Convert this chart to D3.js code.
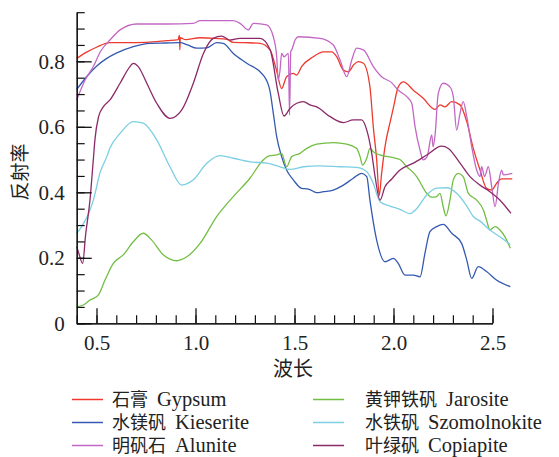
<!DOCTYPE html>
<html><head><meta charset="utf-8">
<script src="https://cdn.jsdelivr.net/npm/d3@7"></script>
<style>body{margin:0;background:#fff}</style>
</head><body><svg id="c" width="559" height="457"></svg>
<script>
const seriesCN = ["石膏", "水镁矾", "明矾石", "黄钾铁矾", "水铁矾", "叶绿矾"];
const seriesEN = ["Gypsum", "Kieserite", "Alunite", "Jarosite", "Szomolnokite", "Copiapite"];
const colors = ["#ee3a2e", "#3459b1", "#c268c4", "#72be43", "#7ccfe2", "#8b2a68"];
const xTicks = [0.5, 1.0, 1.5, 2.0, 2.5];
const yTicks = [0, 0.2, 0.4, 0.6, 0.8];

const gypsum = [[0.4,0.809],[0.45,0.828],[0.5,0.843],[0.568,0.857],[0.65,0.857],[0.75,0.858],[0.856,0.863],[0.912,0.866],[0.919,0.88],[0.921,0.835],[0.923,0.872],[0.95,0.866],[1.023,0.872],[1.1,0.87],[1.159,0.867],[1.19,0.858],[1.25,0.857],[1.326,0.855],[1.377,0.834],[1.41,0.77],[1.435,0.717],[1.46,0.753],[1.494,0.763],[1.511,0.758],[1.536,0.784],[1.595,0.814],[1.645,0.829],[1.688,0.829],[1.713,0.814],[1.747,0.773],[1.772,0.768],[1.8,0.79],[1.822,0.799],[1.848,0.794],[1.881,0.722],[1.898,0.6],[1.915,0.499],[1.928,0.39],[1.94,0.458],[1.957,0.539],[1.985,0.62],[2.0,0.66],[2.024,0.722],[2.05,0.737],[2.1,0.712],[2.15,0.687],[2.21,0.653],[2.235,0.667],[2.26,0.661],[2.294,0.677],[2.336,0.667],[2.37,0.616],[2.403,0.534],[2.437,0.468],[2.47,0.412],[2.496,0.407],[2.52,0.427],[2.546,0.441],[2.6,0.441]];
const kieserite = [[0.4,0.714],[0.45,0.753],[0.5,0.785],[0.552,0.809],[0.6,0.825],[0.686,0.845],[0.77,0.855],[0.85,0.856],[0.922,0.857],[0.96,0.85],[1.006,0.84],[1.057,0.841],[1.107,0.857],[1.14,0.855],[1.191,0.824],[1.259,0.794],[1.342,0.758],[1.376,0.71],[1.393,0.641],[1.41,0.57],[1.435,0.509],[1.46,0.468],[1.494,0.438],[1.536,0.412],[1.57,0.41],[1.612,0.399],[1.646,0.402],[1.696,0.407],[1.747,0.422],[1.797,0.443],[1.839,0.458],[1.865,0.448],[1.881,0.376],[1.915,0.254],[1.957,0.188],[1.999,0.198],[2.024,0.183],[2.058,0.147],[2.1,0.147],[2.134,0.142],[2.159,0.214],[2.184,0.28],[2.218,0.295],[2.251,0.302],[2.294,0.275],[2.344,0.244],[2.37,0.193],[2.395,0.137],[2.428,0.173],[2.47,0.158],[2.52,0.132],[2.59,0.112]];
const alunite = [[0.4,0.682],[0.44,0.74],[0.484,0.784],[0.52,0.83],[0.568,0.865],[0.619,0.896],[0.703,0.914],[0.855,0.914],[0.989,0.916],[1.023,0.924],[1.191,0.924],[1.225,0.916],[1.267,0.896],[1.292,0.916],[1.36,0.911],[1.377,0.901],[1.393,0.875],[1.41,0.814],[1.418,0.743],[1.427,0.773],[1.435,0.824],[1.447,0.814],[1.469,0.824],[1.475,0.636],[1.481,0.83],[1.486,0.835],[1.503,0.865],[1.519,0.875],[1.629,0.87],[1.696,0.85],[1.73,0.804],[1.764,0.753],[1.789,0.804],[1.814,0.84],[1.848,0.835],[1.898,0.784],[1.94,0.753],[1.99,0.735],[2.024,0.712],[2.067,0.692],[2.092,0.672],[2.109,0.6],[2.134,0.529],[2.15,0.499],[2.17,0.509],[2.193,0.575],[2.2,0.539],[2.21,0.575],[2.226,0.702],[2.251,0.733],[2.285,0.722],[2.302,0.692],[2.319,0.59],[2.336,0.641],[2.352,0.677],[2.37,0.631],[2.395,0.539],[2.42,0.468],[2.437,0.448],[2.445,0.478],[2.46,0.448],[2.479,0.478],[2.496,0.417],[2.513,0.356],[2.53,0.427],[2.546,0.468],[2.555,0.453],[2.6,0.458]];
const jarosite = [[0.4,0.051],[0.434,0.056],[0.467,0.071],[0.509,0.086],[0.543,0.132],[0.585,0.183],[0.635,0.209],[0.686,0.249],[0.736,0.275],[0.779,0.254],[0.837,0.209],[0.905,0.191],[0.956,0.203],[1.023,0.244],[1.107,0.326],[1.191,0.387],[1.275,0.443],[1.342,0.499],[1.376,0.512],[1.41,0.514],[1.435,0.519],[1.46,0.478],[1.486,0.509],[1.528,0.519],[1.562,0.534],[1.612,0.547],[1.696,0.552],[1.764,0.547],[1.814,0.534],[1.831,0.509],[1.844,0.483],[1.865,0.504],[1.881,0.534],[1.898,0.524],[1.932,0.514],[1.999,0.506],[2.033,0.5],[2.067,0.478],[2.1,0.46],[2.117,0.448],[2.168,0.397],[2.193,0.385],[2.218,0.387],[2.235,0.397],[2.251,0.356],[2.265,0.328],[2.285,0.376],[2.302,0.438],[2.327,0.458],[2.352,0.448],[2.378,0.397],[2.42,0.376],[2.454,0.346],[2.47,0.315],[2.487,0.285],[2.513,0.295],[2.538,0.285],[2.563,0.264],[2.59,0.229]];
const szomolnokite = [[0.4,0.275],[0.425,0.295],[0.467,0.346],[0.484,0.376],[0.518,0.46],[0.552,0.509],[0.568,0.535],[0.619,0.58],[0.686,0.616],[0.736,0.611],[0.804,0.56],[0.871,0.478],[0.93,0.422],[0.989,0.438],[1.057,0.489],[1.124,0.512],[1.191,0.504],[1.275,0.493],[1.36,0.489],[1.427,0.478],[1.477,0.47],[1.545,0.478],[1.629,0.481],[1.73,0.478],[1.814,0.476],[1.865,0.463],[1.89,0.438],[1.898,0.427],[1.932,0.371],[1.982,0.358],[2.033,0.348],[2.083,0.335],[2.117,0.35],[2.168,0.392],[2.218,0.413],[2.269,0.414],[2.319,0.397],[2.37,0.358],[2.403,0.326],[2.437,0.312],[2.487,0.285],[2.538,0.264],[2.59,0.24]];
const copiapite = [[0.4,0.234],[0.41,0.215],[0.43,0.183],[0.445,0.27],[0.467,0.376],[0.484,0.5],[0.492,0.56],[0.51,0.63],[0.534,0.661],[0.568,0.682],[0.619,0.733],[0.669,0.784],[0.686,0.794],[0.711,0.784],[0.754,0.733],[0.804,0.672],[0.871,0.626],[0.93,0.651],[0.989,0.733],[1.04,0.824],[1.09,0.87],[1.132,0.877],[1.174,0.865],[1.225,0.87],[1.326,0.87],[1.377,0.835],[1.418,0.702],[1.447,0.633],[1.477,0.656],[1.511,0.672],[1.545,0.677],[1.578,0.667],[1.612,0.661],[1.68,0.631],[1.747,0.613],[1.797,0.621],[1.839,0.621],[1.865,0.59],[1.89,0.519],[1.907,0.448],[1.932,0.376],[1.957,0.417],[1.99,0.44],[2.033,0.468],[2.1,0.489],[2.168,0.514],[2.243,0.541],[2.277,0.534],[2.336,0.489],[2.386,0.448],[2.437,0.422],[2.487,0.402],[2.538,0.376],[2.593,0.336]];

const seriesData = [gypsum, kieserite, alunite, jarosite, szomolnokite, copiapite];

const svg = d3.select("#c");
const x = d3.scaleLinear().domain([0.4, 2.6]).range([76.7, 512.3]);
const y = d3.scaleLinear().domain([0, 0.95]).range([323.3, 12.2]);
const xAxisScale = d3.scaleLinear().domain([0.4, 2.5]).range([x(0.4), x(2.5)]);

const serif = "'Liberation Serif', 'Times New Roman', serif";
const cjk = "'Noto Sans CJK SC', sans-serif";

// lines
const line = d3.line().x(d => x(d[0])).y(d => y(d[1])).curve(d3.curveMonotoneX);
svg.append("g").selectAll("path").data(seriesData).join("path")
  .attr("d", line).attr("fill", "none")
  .attr("stroke", (d, i) => colors[i]).attr("stroke-width", 1.3);

// y axis
const yMinor = d3.range(0, 0.951, 0.05);
const gy = svg.append("g").attr("transform", `translate(${x(0.4)},0)`);
gy.call(d3.axisLeft(y).tickValues(yMinor).tickSize(-8).tickSizeOuter(0).tickFormat(""));
gy.call(g => g.selectAll(".tick line").attr("stroke", "#111").attr("stroke-width", 1.2));
const gy2 = svg.append("g").attr("transform", `translate(${x(0.4)},0)`);
gy2.call(d3.axisLeft(y).tickValues(yTicks).tickSize(-15).tickSizeOuter(0).tickPadding(12)
  .tickFormat(d => d === 0 ? "0" : d3.format(".1f")(d)));
gy2.select(".domain").attr("stroke", "#111").attr("stroke-width", 1.3);
gy2.selectAll(".tick line").attr("stroke", "#111").attr("stroke-width", 1.3);
gy2.selectAll("text").attr("font-family", serif).attr("font-size", 21).attr("fill", "#222");

// x axis
const xMinor = d3.range(0.4, 2.501, 0.1);
const gx = svg.append("g").attr("transform", `translate(0,${y(0)})`);
gx.call(d3.axisBottom(xAxisScale).tickValues(xMinor).tickSize(-8).tickSizeOuter(0).tickFormat(""));
gx.selectAll(".tick line").attr("stroke", "#111").attr("stroke-width", 1.2);
const gx2 = svg.append("g").attr("transform", `translate(0,${y(0)})`);
gx2.call(d3.axisBottom(xAxisScale).tickValues(xTicks).tickSize(-15).tickSizeOuter(0).tickPadding(12)
  .tickFormat(d3.format(".1f")));
gx2.select(".domain").attr("stroke", "#111").attr("stroke-width", 1.3);
gx2.selectAll(".tick line").attr("stroke", "#111").attr("stroke-width", 1.3);
gx2.selectAll("text").attr("font-family", serif).attr("font-size", 21).attr("fill", "#222");

// axis titles
svg.append("text").attr("transform", "translate(27,172) rotate(-90)")
  .attr("text-anchor", "middle").attr("font-family", cjk).attr("font-size", 19).attr("fill", "#222")
  .text("反射率");
svg.append("text").attr("x", 293).attr("y", 376)
  .attr("text-anchor", "middle").attr("font-family", cjk).attr("font-size", 20).attr("fill", "#222")
  .text("波长");

// legend
const legCols = [72, 313];
const legRows = [399.5, 422.5, 445.5];
const leg = svg.append("g");
seriesCN.forEach((name, i) => {
  const col = Math.floor(i / 3), row = i % 3;
  const lx = legCols[col], ly = legRows[row];
  leg.append("line").attr("x1", lx).attr("x2", lx + 31).attr("y1", ly).attr("y2", ly)
    .attr("stroke", colors[i]).attr("stroke-width", 1.5);
  const t = leg.append("text").attr("x", lx + (col === 0 ? 40 : 52)).attr("y", ly + 6.5).attr("fill", "#222");
  t.append("tspan").attr("font-family", cjk).attr("font-size", 18).text(name);
  t.append("tspan").attr("dx", 9).attr("font-family", serif).attr("font-size", 20.5).text(seriesEN[i]);
});
</script></body></html>
